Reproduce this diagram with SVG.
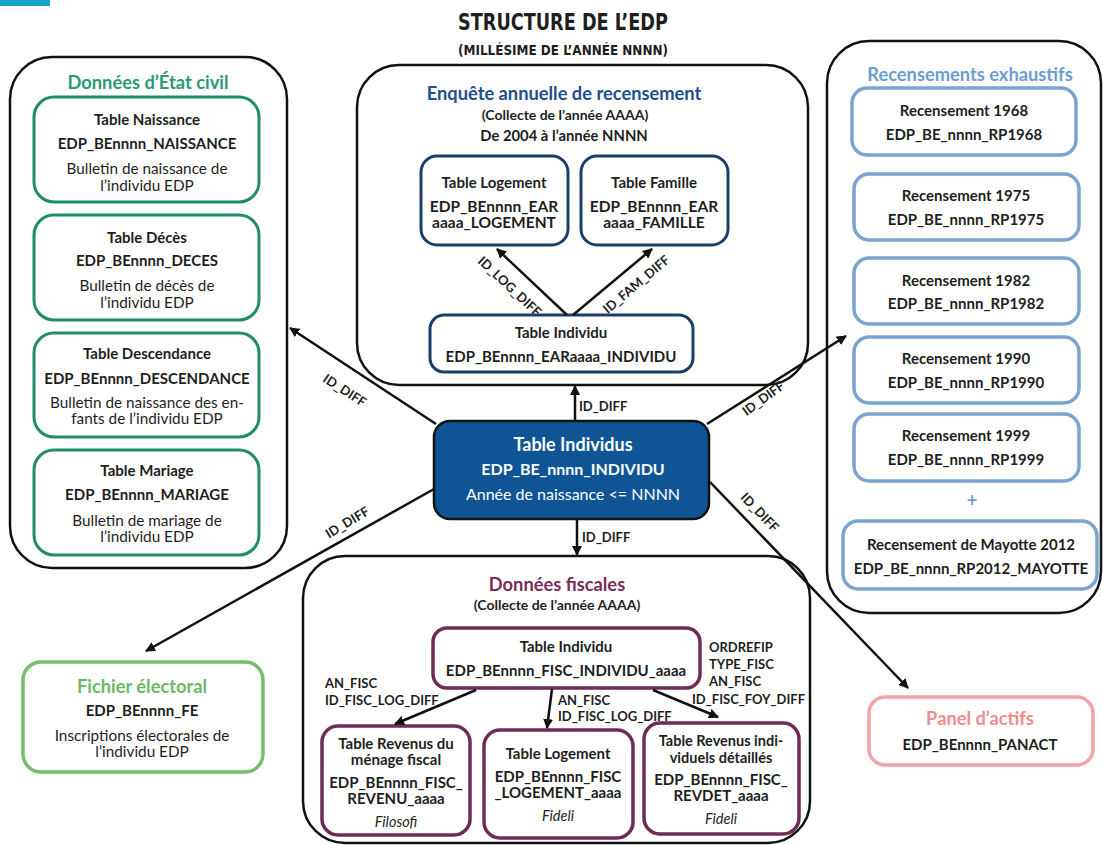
<svg xmlns="http://www.w3.org/2000/svg" width="1103" height="845" viewBox="0 0 1103 845">
  <defs>
    <marker id="arrow" viewBox="0 0 10 10" refX="9" refY="5" markerWidth="10" markerHeight="10" markerUnits="userSpaceOnUse" orient="auto">
      <path d="M0,0 L10,5 L0,10 z" fill="#111"/>
    </marker>
    <style>
      text { font-family: Lato, "Liberation Sans", Arial, sans-serif; fill: #1e1e1e; text-anchor: middle; dominant-baseline: central; }
      .b { font-weight: bold; font-size: 15px; }
      .r { font-size: 15.3px; }
      .i { font-size: 14.5px; font-style: italic; }
      .h { font-weight: bold; font-size: 18.3px; }
      .sub { font-weight: bold; font-size: 14px; }
      .lbl { font-weight: bold; font-size: 13px; }
      .fl { font-weight: bold; font-size: 13px; text-anchor: start; }
      .cond { font-family: "DejaVu Sans Condensed", "Liberation Sans Narrow", sans-serif; font-weight: bold; }
      .group { fill: #fff; stroke: #111; stroke-width: 2.5; }
      .civ { fill: #fff; stroke: #208c6c; stroke-width: 3; }
      .ear { fill: #fff; stroke: #1c3e6c; stroke-width: 3; }
      .rp { fill: #fff; stroke: #7ba4cf; stroke-width: 3.5; }
      .fisc { fill: #fff; stroke: #6e2b57; stroke-width: 3.5; }
      .fe { fill: #fff; stroke: #74be6c; stroke-width: 3.5; }
      .pa { fill: #fff; stroke: #f3a4a4; stroke-width: 3.5; }
      .conn line { stroke: #111; stroke-width: 2.5; marker-end: url(#arrow); }
    </style>
  </defs>

  <rect width="1103" height="845" fill="#fff"/>
  <rect x="0" y="0" width="50" height="6" fill="#1aa3c8"/>

  <!-- Title -->
  <g id="title">
    <text class="cond" x="563" y="22" style="font-size: 23px;" textLength="210" lengthAdjust="spacingAndGlyphs">STRUCTURE DE L’EDP</text>
    <text class="cond" x="563" y="50" style="font-size: 14.5px;" textLength="210" lengthAdjust="spacingAndGlyphs">(MILLÉSIME DE L’ANNÉE NNNN)</text>
  </g>

  <!-- Civil registry data -->
  <g id="etat-civil">
    <rect class="group" x="10" y="57" width="277" height="511" rx="42"/>
    <text class="h" x="148" y="82" style="fill:#2a9a76">Données d’État civil</text>
    <g id="naissance">
      <rect class="civ" x="34" y="97" width="225" height="105" rx="20"/>
      <text class="b" x="147" y="119">Table Naissance</text>
      <text class="b" x="147" y="143">EDP_BEnnnn_NAISSANCE</text>
      <text class="r" x="147" y="168">Bulletin de naissance de</text>
      <text class="r" x="147" y="185">l’individu EDP</text>
    </g>
    <g id="deces">
      <rect class="civ" x="34" y="215" width="225" height="105" rx="20"/>
      <text class="b" x="147" y="237">Table Décès</text>
      <text class="b" x="147" y="260">EDP_BEnnnn_DECES</text>
      <text class="r" x="147" y="285">Bulletin de décès de</text>
      <text class="r" x="147" y="302">l’individu EDP</text>
    </g>
    <g id="descendance">
      <rect class="civ" x="34" y="333" width="225" height="104" rx="20"/>
      <text class="b" x="147" y="353">Table Descendance</text>
      <text class="b" x="147" y="378">EDP_BEnnnn_DESCENDANCE</text>
      <text class="r" x="147" y="402">Bulletin de naissance des en-</text>
      <text class="r" x="147" y="418">fants de l’individu EDP</text>
    </g>
    <g id="mariage">
      <rect class="civ" x="34" y="450" width="225" height="105" rx="20"/>
      <text class="b" x="147" y="470">Table Mariage</text>
      <text class="b" x="147" y="494">EDP_BEnnnn_MARIAGE</text>
      <text class="r" x="147" y="520">Bulletin de mariage de</text>
      <text class="r" x="147" y="536">l’individu EDP</text>
    </g>
  </g>

  <!-- Annual census survey -->
  <g id="ear">
    <rect class="group" x="357" y="65" width="451" height="320" rx="42"/>
    <text class="h" x="564" y="93" style="fill:#1f4e8a">Enquête annuelle de recensement</text>
    <text class="sub" x="565" y="114">(Collecte de l’année AAAA)</text>
    <text class="sub" x="564" y="135" style="font-size:14.8px">De 2004 à l’année NNNN</text>
    <g id="ear-logement">
      <rect class="ear" x="421" y="156" width="147" height="89" rx="16"/>
      <text class="b" x="494" y="182">Table Logement</text>
      <text class="b" x="494" y="206" style="font-size:15.5px">EDP_BEnnnn_EAR</text>
      <text class="b" x="494" y="222" style="font-size:15.5px">aaaa_LOGEMENT</text>
    </g>
    <g id="ear-famille">
      <rect class="ear" x="581" y="156" width="147" height="89" rx="16"/>
      <text class="b" x="654" y="182">Table Famille</text>
      <text class="b" x="654" y="206" style="font-size:15.5px">EDP_BEnnnn_EAR</text>
      <text class="b" x="654" y="222" style="font-size:15.5px">aaaa_FAMILLE</text>
    </g>
    <g id="ear-individu">
      <rect class="ear" x="430" y="315" width="263" height="57" rx="14"/>
      <text class="b" x="561" y="332">Table Individu</text>
      <text class="b" x="561" y="356">EDP_BEnnnn_EARaaaa_INDIVIDU</text>
    </g>
  </g>

  <!-- Exhaustive censuses -->
  <g id="recensements">
    <rect class="group" x="827" y="41" width="274" height="572" rx="42"/>
    <text class="h" x="970" y="74" style="fill:#6b9dd0">Recensements exhaustifs</text>
    <g id="rp1968">
      <rect class="rp" x="852" y="88" width="224" height="67" rx="15"/>
      <text class="b" x="964" y="110">Recensement 1968</text>
      <text class="b" x="964" y="134">EDP_BE_nnnn_RP1968</text>
    </g>
    <g id="rp1975">
      <rect class="rp" x="854" y="174" width="225" height="66" rx="15"/>
      <text class="b" x="966" y="195">Recensement 1975</text>
      <text class="b" x="966" y="219">EDP_BE_nnnn_RP1975</text>
    </g>
    <g id="rp1982">
      <rect class="rp" x="854" y="258" width="225" height="66" rx="15"/>
      <text class="b" x="966" y="280">Recensement 1982</text>
      <text class="b" x="966" y="303">EDP_BE_nnnn_RP1982</text>
    </g>
    <g id="rp1990">
      <rect class="rp" x="854" y="337" width="225" height="66" rx="15"/>
      <text class="b" x="966" y="358">Recensement 1990</text>
      <text class="b" x="966" y="382">EDP_BE_nnnn_RP1990</text>
    </g>
    <g id="rp1999">
      <rect class="rp" x="854" y="414" width="225" height="67" rx="15"/>
      <text class="b" x="966" y="435">Recensement 1999</text>
      <text class="b" x="966" y="459">EDP_BE_nnnn_RP1999</text>
    </g>
    <text class="h" x="972" y="500" style="fill:#6b9dd0">+</text>
    <g id="rp2012">
      <rect class="rp" x="843" y="521" width="254" height="68" rx="15"/>
      <text class="b" x="971" y="544">Recensement de Mayotte 2012</text>
      <text class="b" x="971" y="568">EDP_BE_nnnn_RP2012_MAYOTTE</text>
    </g>
  </g>

  <!-- Tax data -->
  <g id="fiscal">
    <rect class="group" x="303" y="556" width="507" height="287" rx="42"/>
    <text class="h" x="557" y="584" style="fill:#7a2d5a">Données fiscales</text>
    <text class="sub" x="557" y="604">(Collecte de l’année AAAA)</text>
    <g id="fisc-individu">
      <rect class="fisc" x="433" y="628" width="267" height="60" rx="14"/>
      <text class="b" x="566" y="646">Table Individu</text>
      <text class="b" x="566" y="670">EDP_BEnnnn_FISC_INDIVIDU_aaaa</text>
    </g>
    <g id="fisc-revenu">
      <rect class="fisc" x="322" y="726" width="148" height="109" rx="16"/>
      <text class="b" x="396" y="743">Table Revenus du</text>
      <text class="b" x="396" y="759">ménage fiscal</text>
      <text class="b" x="396" y="782">EDP_BEnnnn_FISC_</text>
      <text class="b" x="396" y="798">REVENU_aaaa</text>
      <text class="i" x="396" y="821">Filosofi</text>
    </g>
    <g id="fisc-logement">
      <rect class="fisc" x="484" y="730" width="149" height="108" rx="16"/>
      <text class="b" x="558" y="753">Table Logement</text>
      <text class="b" x="558" y="776">EDP_BEnnnn_FISC</text>
      <text class="b" x="558" y="792">_LOGEMENT_aaaa</text>
      <text class="i" x="558" y="815">Fideli</text>
    </g>
    <g id="fisc-revdet">
      <rect class="fisc" x="644" y="723" width="155" height="111" rx="16"/>
      <text class="b" x="721" y="740" style="font-size:14.5px">Table Revenus indi-</text>
      <text class="b" x="721" y="757" style="font-size:14.5px">viduels détaillés</text>
      <text class="b" x="721" y="779">EDP_BEnnnn_FISC_</text>
      <text class="b" x="721" y="795">REVDET_aaaa</text>
      <text class="i" x="721" y="818">Fideli</text>
    </g>
  </g>

  <!-- Central node -->
  <g id="individus">
    <rect x="434" y="421" width="275" height="98" rx="16" fill="#0f5596" stroke="#111" stroke-width="2.5"/>
    <text class="b" x="573" y="444" style="fill:#fff; font-size:18px">Table Individus</text>
    <text class="b" x="573" y="468" style="fill:#fff; font-size:16px">EDP_BE_nnnn_INDIVIDU</text>
    <text class="r" x="573" y="493" style="fill:#fff; font-size:16px">Année de naissance &lt;= NNNN</text>
  </g>

  <!-- Electoral file -->
  <g id="fichier-electoral">
    <rect class="fe" x="23" y="662" width="240" height="110" rx="18"/>
    <text class="h" x="142" y="686" style="fill:#6db867">Fichier électoral</text>
    <text class="b" x="142" y="710">EDP_BEnnnn_FE</text>
    <text class="r" x="142" y="735">Inscriptions électorales de</text>
    <text class="r" x="142" y="751">l’individu EDP</text>
  </g>

  <!-- Active population panel -->
  <g id="panel-actifs">
    <rect class="pa" x="869" y="697" width="224" height="68" rx="16"/>
    <text class="h" x="980" y="718" style="fill:#ee8d8d">Panel d’actifs</text>
    <text class="b" x="980" y="744">EDP_BEnnnn_PANACT</text>
  </g>

  <!-- Connectors -->
  <g id="connectors" class="conn">
    <line x1="567" y1="315" x2="497" y2="249"/>
    <line x1="573" y1="315" x2="652" y2="249"/>
    <line x1="575" y1="421" x2="575" y2="386"/>
    <line x1="577" y1="519" x2="577" y2="555"/>
    <line x1="436" y1="424" x2="290" y2="328"/>
    <line x1="434" y1="489" x2="146" y2="651"/>
    <line x1="707" y1="424" x2="846" y2="336"/>
    <line x1="710" y1="482" x2="908" y2="688"/>
    <line x1="476" y1="690" x2="395" y2="724"/>
    <line x1="552" y1="689" x2="547" y2="728"/>
    <line x1="653" y1="690" x2="718" y2="717"/>

    <text class="lbl" transform="translate(510,286) rotate(43)">ID_LOG_DIFF</text>
    <text class="lbl" transform="translate(636,284) rotate(-40)">ID_FAM_DIFF</text>
    <text class="lbl" x="579" y="406" style="text-anchor:start">ID_DIFF</text>
    <text class="lbl" x="582" y="537" style="text-anchor:start">ID_DIFF</text>
    <text class="lbl" transform="translate(345,390) rotate(33)">ID_DIFF</text>
    <text class="lbl" transform="translate(347,522) rotate(-31)">ID_DIFF</text>
    <text class="lbl" transform="translate(763,398) rotate(-36)">ID_DIFF</text>
    <text class="lbl" transform="translate(760,512) rotate(46)">ID_DIFF</text>

    <text class="fl" x="325" y="683">AN_FISC</text>
    <text class="fl" x="325" y="700">ID_FISC_LOG_DIFF</text>
    <text class="fl" x="558" y="700">AN_FISC</text>
    <text class="fl" x="558" y="716">ID_FISC_LOG_DIFF</text>
    <text class="fl" x="709" y="647">ORDREFIP</text>
    <text class="fl" x="709" y="664">TYPE_FISC</text>
    <text class="fl" x="709" y="681">AN_FISC</text>
    <text class="fl" x="692" y="699">ID_FISC_FOY_DIFF</text>
  </g>
</svg>
